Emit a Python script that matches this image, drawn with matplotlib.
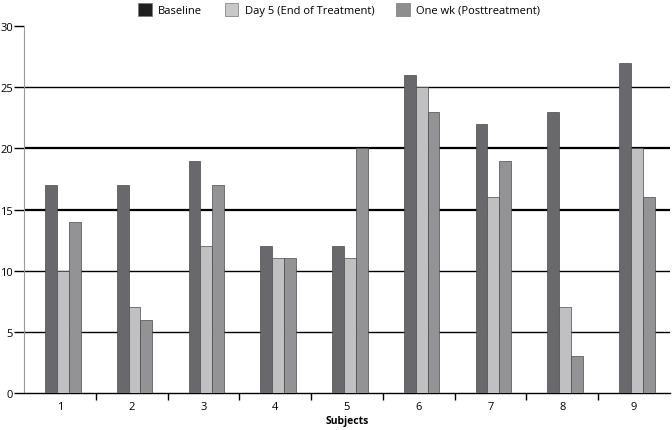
import matplotlib.pyplot as plt
import numpy as np
from matplotlib.patches import Patch

subjects = ['1', '2', '3', '4', '5', '6', '7', '8', '9']
baseline = [17, 17, 19, 12, 12, 26, 22, 23, 27]
day5 = [10, 7, 12, 11, 11, 25, 16, 7, 20]
one_wk = [14, 6, 17, 11, 20, 23, 19, 3, 16]

series = [
    ('Baseline', baseline, '#69696d', '#1f1f1f'),
    ('Day 5 (End of Treatment)', day5, '#c0c0c2', '#c8c8c8'),
    ('One wk (Posttreatment)', one_wk, '#939395', '#8e8e8e'),
]

plt.rcParams['font.family'] = ['Open Sans', 'DejaVu Sans']

fig = plt.figure(figsize=(6.72, 4.31), dpi=100)
ax = fig.add_axes([0.0357, 0.086, 0.9613, 0.851])

x = np.arange(len(subjects))
w = 0.165
for i, (name, vals, col, _) in enumerate(series):
    ax.bar(x + (i - 1) * w + 0.04, vals, width=w, color=col,
           edgecolor='#4a4a4a', linewidth=0.5, zorder=3)

ax.set_xlim(-0.5, len(subjects) - 0.5)
ax.set_ylim(0, 30)
ax.set_yticks(range(0, 31, 5))
for y in range(5, 30, 5):
    lw = 1.6 if y in (15, 20) else 1.0
    ax.axhline(y, color='black', linewidth=lw, zorder=1)

ax.set_xticks(x)
ax.set_xticklabels(subjects, fontsize=8)
ax.set_xticks(np.arange(0.5, len(subjects) - 0.5), minor=True)
ax.tick_params(axis='x', which='major', length=0, pad=6)
ax.tick_params(axis='x', which='minor', length=5, width=1, color='black', direction='out')
ax.tick_params(axis='y', length=7, width=1, color='black', labelsize=8, pad=1)

for s in ['top', 'right']:
    ax.spines[s].set_visible(False)
ax.spines['left'].set_color('#9a9a9a')
ax.spines['bottom'].set_color('black')
ax.spines['bottom'].set_linewidth(1.0)

ax.set_xlabel('Subjects', fontsize=7.5, fontweight='bold', labelpad=2)

handles = [Patch(facecolor=lc, edgecolor='#777777', linewidth=0.5, label=n)
           for n, _, _, lc in series]
fig.legend(handles=handles, loc='upper center', bbox_to_anchor=(0.505, 1.015),
           ncol=3, frameon=False, fontsize=8, handlelength=1.2,
           handleheight=1.5, columnspacing=2.0, handletextpad=0.6)

fig.savefig('out.png', dpi=100)
